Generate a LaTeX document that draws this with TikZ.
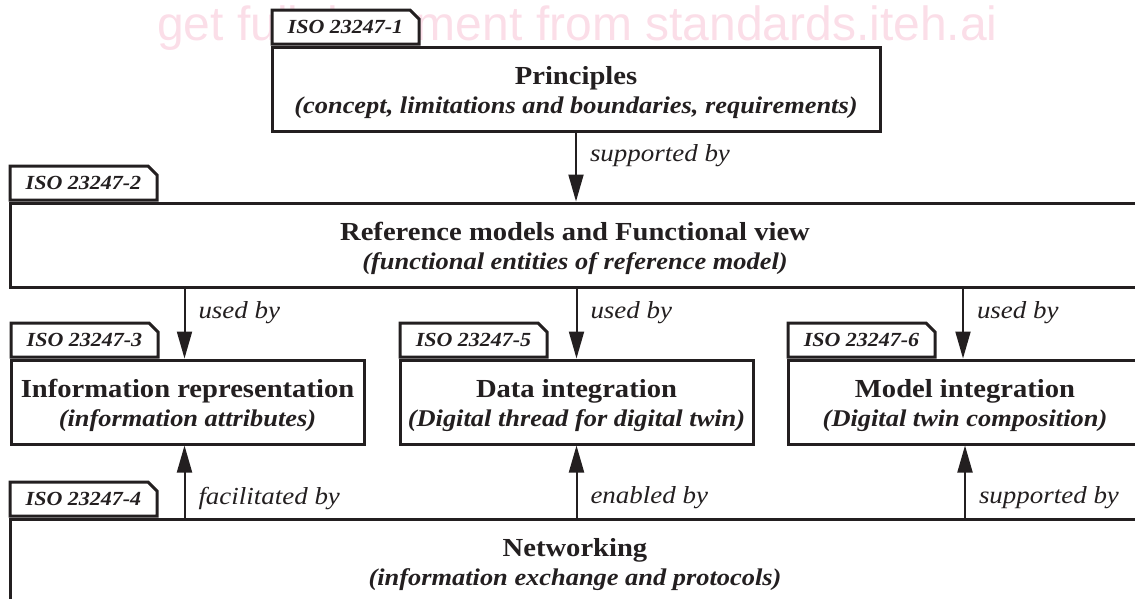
\documentclass[tikz,border=0pt]{standalone}
\usepackage{fontspec}
\setmainfont{Liberation Serif}[FakeStretch=1.1]
\newfontfamily\wmfont{Liberation Sans}
\usetikzlibrary{arrows.meta,shapes.misc}

\definecolor{ink}{RGB}{35,31,32}
\definecolor{wmpink}{RGB}{251,222,232}
\newcommand\boxtitle[1]{{\fontsize{26}{29}\selectfont\bfseries\rule{0pt}{26pt}#1}}
\newcommand\boxnote[1]{{\fontsize{24}{29}\selectfont\bfseries\itshape #1}}

\begin{document}
\begin{tikzpicture}[x=1pt, y=-1pt,
        body/.style={draw=ink, line width=3pt, fill=white, text=ink,
                        minimum height=84pt, inner sep=0pt, align=center,
                        font=\fontsize{24}{29}\selectfont},
        tab/.style={chamfered rectangle, chamfered rectangle corners=north east,
                        chamfered rectangle xsep=6pt, draw=ink, line width=3pt,
                        fill=white, text=ink, anchor=south west,
                        minimum width=147pt, minimum height=34pt, inner sep=0pt,
                        font=\fontsize{20}{24}\selectfont\bfseries\itshape},
        arr/.style={draw=ink, line width=2pt, -{Triangle[length=27pt,width=15pt]}},
        lbl/.style={anchor=west, inner sep=0pt, xshift=13pt, text=ink,
                        font=\fontsize{24.5}{28}\selectfont\itshape}]
    \useasboundingbox (0,0) rectangle (1135,598);
    \clip (0,0) rectangle (1135,598);
    % watermark
    \node (wm) [anchor=base west, inner sep=0pt, text=wmpink,
        font=\wmfont\fontsize{48}{48}\selectfont] at (157,40)
        {get full document from standards.iteh.ai};
    % parts of the standard
    \node (b1) [body, minimum width=608pt] at (576,89)
        {\boxtitle{Principles}\\ \boxnote{(concept, limitations and boundaries, requirements)}};
    \node (t1) [tab] at (b1.north west) {ISO 23247-1};
    \node (b2) [body, minimum width=1130pt] at (575,245)
        {\boxtitle{Reference models and Functional view}\\ \boxnote{(functional entities of reference model)}};
    \node (t2) [tab] at (b2.north west) {ISO 23247-2};
    \node (b3) [body, minimum width=353pt] at (187.5,402)
        {\boxtitle{Information representation}\\ \boxnote{(information attributes)}};
    \node (t3) [tab] at (b3.north west) {ISO 23247-3};
    \node (b5) [body, minimum width=353pt] at (576.5,402)
        {\boxtitle{Data integration}\\ \boxnote{(Digital thread for digital twin)}};
    \node (t5) [tab] at (b5.north west) {ISO 23247-5};
    \node (b6) [body, minimum width=354pt] at (965,402)
        {\boxtitle{Model integration}\\ \boxnote{(Digital twin composition)}};
    \node (t6) [tab] at (b6.north west) {ISO 23247-6};
    \node (b4) [body, minimum width=1130pt] at (575,561)
        {\boxtitle{Networking}\\ \boxnote{(information exchange and protocols)}};
    \node (t4) [tab] at (b4.north west) {ISO 23247-4};
    % relations
    \draw [arr] (b1.south) -- (b1.south |- b2.north) node[lbl, pos=0.33] {supported by};
    \draw [arr] ([xshift=-3pt]b2.south -| b3.north) -- ([xshift=-3pt]b3.north) node[lbl, pos=0.34] {used by};
    \draw [arr] (b2.south -| b5.north) -- (b5.north) node[lbl, pos=0.34] {used by};
    \draw [arr] ([xshift=-2pt]b2.south -| b6.north) -- ([xshift=-2pt]b6.north) node[lbl, pos=0.34] {used by};
    \draw [arr] ([xshift=-3pt]b4.north -| b3.south) -- ([xshift=-3pt]b3.south) node[lbl, pos=0.27] {facilitated by};
    \draw [arr] (b4.north -| b5.south) -- (b5.south) node[lbl, pos=0.27] {enabled by};
    \draw [arr] (b4.north -| b6.south) -- (b6.south) node[lbl, pos=0.27] {supported by};
\end{tikzpicture}
\end{document}
